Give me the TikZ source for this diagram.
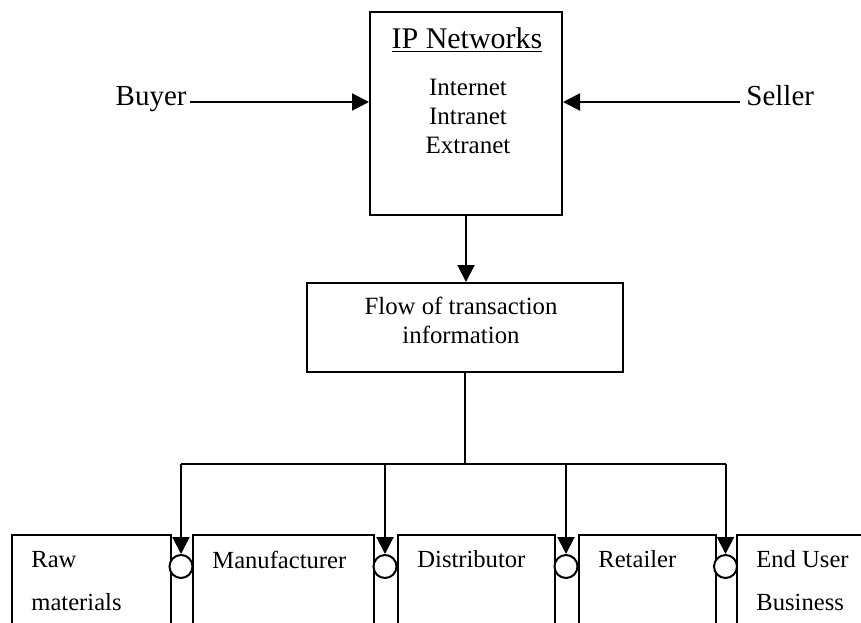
\documentclass[tikz,border=0pt]{standalone}
\usepackage{fontspec}
\setmainfont{Liberation Serif}
\usetikzlibrary{arrows.meta,positioning}
\tikzset{
  framebox/.style={rectangle, draw=black, line width=1pt, fill=white, inner sep=0pt, anchor=north west},
  stagebox/.style={framebox, minimum height=53pt},
  stagetext/.style={anchor=north west, inner sep=0pt, align=left, font=\fontsize{12.3}{21.5}\selectfont},
  partytext/.style={inner sep=0pt, text height=0.66em, text depth=0.3em, font=\fontsize{14.5}{17}\selectfont},
  joint/.style={circle, draw=black, line width=1pt, fill=white, minimum size=11.5pt, inner sep=0pt},
  flowline/.style={line width=1pt},
  flowarrow/.style={-{Triangle[length=8.5pt,width=8.5pt]}, line width=1pt},
}
\begin{document}
\begin{tikzpicture}[x=0.5pt, y=-0.5pt]
  \useasboundingbox (0,0) rectangle (861,622);
  \clip (0,0) rectangle (861,622);

  % network box with buyer and seller
  \node[framebox, minimum width=96pt, minimum height=101.5pt] (ip) at (369,11) {};
  \node[anchor=base, inner sep=0pt, font=\fontsize{15}{18}\selectfont] (iptitle) at (467,48) {\underline{IP Networks}};
  \node[anchor=north, inner sep=0pt, align=center, font=\fontsize{12.5}{14.5}\selectfont] (iplist) at (468,79) {Internet\\Intranet\\Extranet};
  \node[partytext, anchor=east, inner xsep=1.5pt] (buyer) at (190,102) {Buyer};
  \node[partytext, anchor=west, inner xsep=3pt] (seller) at (740,102) {Seller};
  \draw[flowarrow] (buyer.east) -- (buyer.east -| ip.west);
  \draw[flowarrow] (seller.west) -- (seller.west -| ip.east);

  % transaction flow
  \node[framebox, minimum width=158pt, minimum height=44.5pt] (flow) at (306,282) {};
  \node[inner sep=0pt, align=center, font=\fontsize{12.4}{14.5}\selectfont] (flowtext) at (461,320) {Flow of transaction\\information};
  \draw[flowarrow] (ip.south) -- (ip.south |- flow.north);
  \coordinate (bus) at (464,464);
  \draw[flowline] (flow.south) -- (flow.south |- bus);

  % supply chain stages
  \node[stagebox, minimum width=79.5pt] (raw) at (11,534) {};
  \node[stagebox, minimum width=90.5pt] (maker) at (192,534) {};
  \node[stagebox, minimum width=78.5pt] (dist) at (397,534) {};
  \node[stagebox, minimum width=68.5pt] (retail) at (578,534) {};
  \node[stagebox, minimum width=72pt] (enduser) at (736,534) {};
  \node[stagetext] (rawtext) at ([shift={(20,16.5)}]raw.north west) {Raw\\materials};
  \node[stagetext] (makertext) at ([shift={(20,16.5)}]maker.north west) {Manufacturer};
  \node[stagetext] (disttext) at ([shift={(20,16.5)}]dist.north west) {Distributor};
  \node[stagetext] (retailtext) at ([shift={(20,16.5)}]retail.north west) {Retailer};
  \node[stagetext] (endusertext) at ([shift={(20,16.5)}]enduser.north west) {End User\\Business};

  \node[joint] (j1) at (181,566.5) {};
  \node[joint] (j2) at (385,566.5) {};
  \node[joint] (j3) at (566,566.5) {};
  \node[joint] (j4) at (725.5,566.5) {};
  \draw[flowline] (j1 |- bus) -- (j4 |- bus);
  \foreach \j in {1,...,4}
    \draw[flowarrow] (j\j |- bus) -- (j\j.north);
\end{tikzpicture}
\end{document}
